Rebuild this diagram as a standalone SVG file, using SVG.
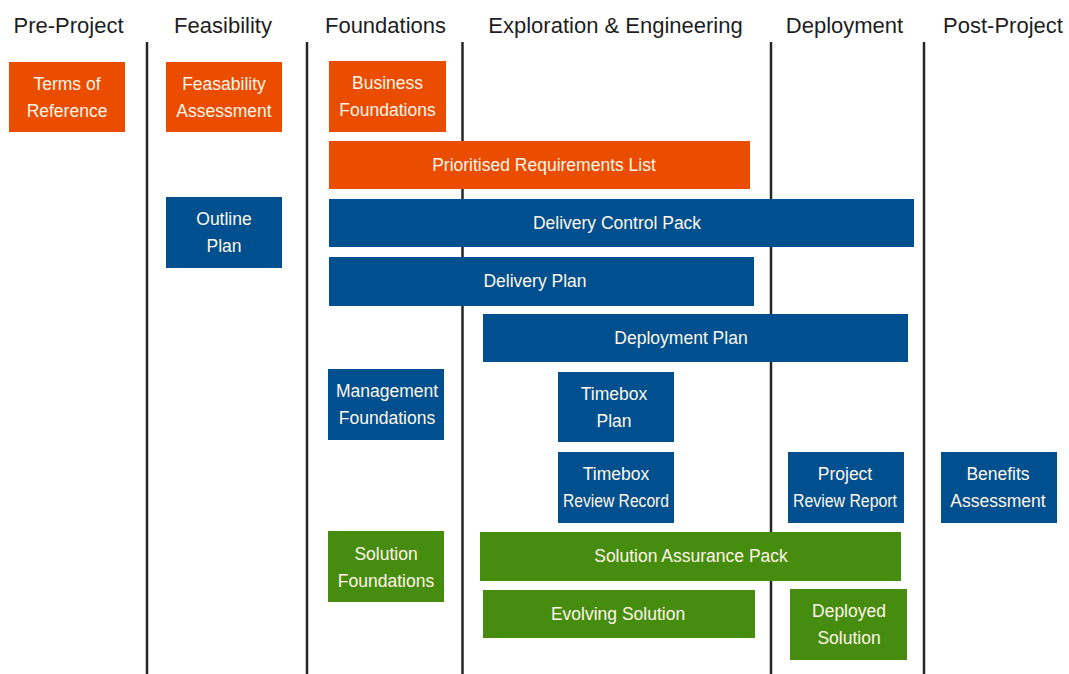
<svg xmlns="http://www.w3.org/2000/svg" width="1069" height="674" viewBox="0 0 1069 674">
<style>
.h{font-family:"Liberation Sans",Arial,sans-serif;font-size:22px;fill:#1e1e1e;text-anchor:middle}
.t{font-family:"Liberation Sans",Arial,sans-serif;font-size:17.5px;fill:#fff6ea;text-anchor:middle}
.o{fill:#ea4d00}
.b{fill:#00508f}
.g{fill:#468c0e}
.sep{stroke:#262626;stroke-width:2.5}
</style>
<rect width="1069" height="674" fill="#fff"/>
<g id="headers">
<text class="h" x="68.5" y="33">Pre-Project</text>
<text class="h" x="223" y="33">Feasibility</text>
<text class="h" x="385.5" y="33">Foundations</text>
<text class="h" x="615.5" y="33">Exploration &amp; Engineering</text>
<text class="h" x="844.5" y="33">Deployment</text>
<text class="h" x="1003" y="33">Post-Project</text>
</g>
<g id="separators">
<line class="sep" x1="147" y1="42" x2="147" y2="674"/>
<line class="sep" x1="307" y1="42" x2="307" y2="674"/>
<line class="sep" x1="462.5" y1="42" x2="462.5" y2="674"/>
<line class="sep" x1="771" y1="42" x2="771" y2="674"/>
<line class="sep" x1="924" y1="42" x2="924" y2="674"/>
</g>
<g id="terms-of-reference"><rect class="o" x="9" y="62" width="116" height="70"/><text class="t" x="67" y="90">Terms of</text><text class="t" x="67" y="117">Reference</text></g>
<g id="feasability-assessment"><rect class="o" x="166" y="62" width="116" height="70"/><text class="t" x="224" y="90">Feasability</text><text class="t" x="224" y="117">Assessment</text></g>
<g id="business-foundations"><rect class="o" x="329" y="61" width="117" height="71"/><text class="t" x="387.5" y="89">Business</text><text class="t" x="387.5" y="116">Foundations</text></g>
<g id="prioritised-requirements-list"><rect class="o" x="329" y="141" width="421" height="48"/><text class="t" x="544" y="171">Prioritised Requirements List</text></g>
<g id="outline-plan"><rect class="b" x="166" y="197" width="116" height="71"/><text class="t" x="224" y="225">Outline</text><text class="t" x="224" y="252">Plan</text></g>
<g id="delivery-control-pack"><rect class="b" x="329" y="199" width="585" height="48"/><text class="t" x="617" y="229">Delivery Control Pack</text></g>
<g id="delivery-plan"><rect class="b" x="329" y="257" width="425" height="49"/><text class="t" x="535" y="287">Delivery Plan</text></g>
<g id="deployment-plan"><rect class="b" x="483" y="314" width="425" height="48"/><text class="t" x="681" y="344">Deployment Plan</text></g>
<g id="management-foundations"><rect class="b" x="328" y="369" width="116" height="71"/><text class="t" x="387" y="397">Management</text><text class="t" x="387" y="424">Foundations</text></g>
<g id="timebox-plan"><rect class="b" x="558" y="372" width="116" height="70"/><text class="t" x="614" y="400">Timebox</text><text class="t" x="614" y="427">Plan</text></g>
<g id="timebox-review-record"><rect class="b" x="558" y="452" width="116" height="71"/><text class="t" x="616" y="480">Timebox</text><text class="t" x="616" y="507" textLength="106" lengthAdjust="spacingAndGlyphs">Review Record</text></g>
<g id="project-review-report"><rect class="b" x="788" y="452" width="116" height="71"/><text class="t" x="845" y="480">Project</text><text class="t" x="845" y="507" textLength="104" lengthAdjust="spacingAndGlyphs">Review Report</text></g>
<g id="benefits-assessment"><rect class="b" x="941" y="452" width="116" height="71"/><text class="t" x="998" y="480">Benefits</text><text class="t" x="998" y="507">Assessment</text></g>
<g id="solution-foundations"><rect class="g" x="328" y="531" width="116" height="71"/><text class="t" x="386" y="560">Solution</text><text class="t" x="386" y="587">Foundations</text></g>
<g id="solution-assurance-pack"><rect class="g" x="480" y="532" width="421" height="49"/><text class="t" x="691" y="562">Solution Assurance Pack</text></g>
<g id="evolving-solution"><rect class="g" x="483" y="590" width="272" height="48"/><text class="t" x="618" y="620">Evolving Solution</text></g>
<g id="deployed-solution"><rect class="g" x="790" y="589" width="117" height="71"/><text class="t" x="849" y="617">Deployed</text><text class="t" x="849" y="644">Solution</text></g>
</svg>
